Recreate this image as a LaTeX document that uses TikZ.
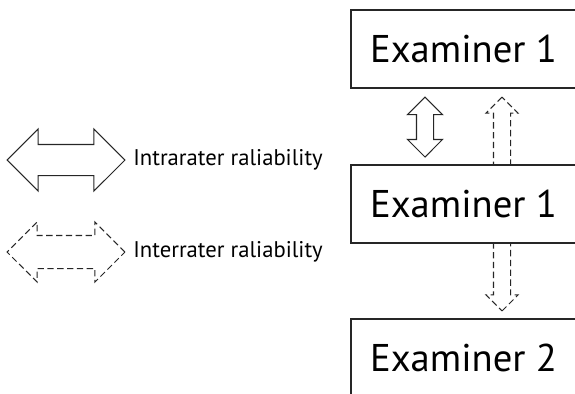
\documentclass[tikz,border=0pt]{standalone}
\usepackage{fontspec}
\setmainfont{PT Sans}
\usetikzlibrary{shapes.arrows, positioning}
\tikzset{
  exbox/.style = {rectangle, draw=black!85, line width=0.8pt, minimum width=4.5cm, minimum height=1.56cm, inner sep=0pt, outer sep=0pt, font=\fontsize{22}{26}\selectfont},
  blockarrow/.style = {draw=black!85, line width=0.6pt, inner xsep=0pt, outer sep=0pt},
  dashedarrow/.style = {blockarrow, dash pattern=on 3.6pt off 2pt},
  legtext/.style = {inner sep=0pt, anchor=west, font=\fontsize{12.9}{15}\selectfont}
}

\begin{document}
\begin{tikzpicture}[x=0.02cm, y=-0.02cm, node distance=1.53cm]
        \useasboundingbox (0,0) rectangle (575,393);
        \clip (0,0) rectangle (575,393);

        % examiners
        \node [exbox] at (463.5,49) (ex1) {Examiner 1};
        \node [exbox, below=1.54cm of ex1] (ex2) {Examiner 1};
        \node [exbox, below=1.52cm of ex2] (ex3) {Examiner 2};

        % legend
        \node [blockarrow, double arrow, inner ysep=0.3cm, minimum height=2.36cm, minimum width=1.22cm,
               double arrow head extend=0.31cm] at (66,160) (legintra) {};
        \node [legtext, right=0.16cm of legintra.east, anchor=west] (intratext) {Intrarater raliability};

        \node [dashedarrow, double arrow, inner ysep=0.32cm, minimum height=2.36cm, minimum width=1.18cm,
               double arrow head extend=0.27cm] at (66,252) (leginter) {};
        \node [legtext, right=0.16cm of leginter.east, anchor=west] (intertext) {Interrater raliability};

        % arrows between examiners
        \node [blockarrow, double arrow, rotate=90, inner ysep=0.16cm, minimum height=1.2cm, minimum width=0.68cm,
               double arrow head extend=0.18cm] at (425,127) (intra) {};

        \node [dashedarrow, single arrow, rotate=90, anchor=tail, inner ysep=0.16cm, minimum height=1.36cm, minimum width=0.62cm,
               single arrow head extend=0.15cm] at (502,165) (interup) {};
        \node [dashedarrow, single arrow, rotate=-90, anchor=tail, inner ysep=0.16cm, minimum height=1.36cm, minimum width=0.62cm,
               single arrow head extend=0.15cm] at (502,243) (interdown) {};
\end{tikzpicture}
\end{document}
